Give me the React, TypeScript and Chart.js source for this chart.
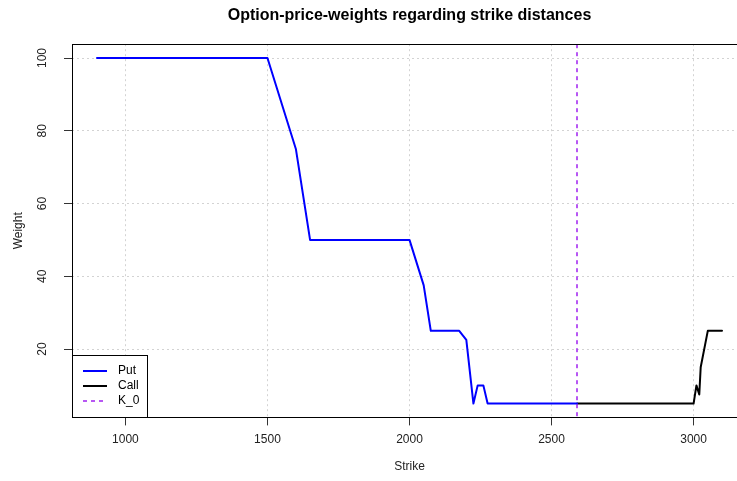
import React, { useEffect, useRef } from 'react';
import { Chart, registerables } from 'chart.js';

Chart.register(...registerables);

const chartTitle = 'Option-price-weights regarding strike distances';
const xTitle = 'Strike';
const yTitle = 'Weight';

const putStrikes = [900, 1000, 1100, 1200, 1300, 1400, 1500, 1600, 1650, 1700, 1800, 1900, 2000, 2050, 2075, 2100, 2125, 2150, 2175, 2200, 2225, 2240, 2260, 2275, 2300, 2400, 2500, 2590];
const putWeights = [100, 100, 100, 100, 100, 100, 100, 75, 50, 50, 50, 50, 50, 37.5, 25, 25, 25, 25, 25, 22.5, 5, 10, 10, 5, 5, 5, 5, 5];

const callStrikes = [2590, 2700, 2800, 2900, 3000, 3010, 3020, 3025, 3050, 3075, 3100];
const callWeights = [5, 5, 5, 5, 5, 10, 7.5, 15, 25, 25, 25];

const k0 = 2590;

const xTicks = [1000, 1500, 2000, 2500, 3000];
const yTicks = [20, 40, 60, 80, 100];
const xLimits = [812, 3188];
const yLimits = [1.2, 103.8];

const legendLabels = ['Put', 'Call', 'K_0'];
const legendColors = ['#0000FF', '#000000', '#A020F0'];

const FONT = '"Liberation Sans", Arial, sans-serif';

const decorPlugin = {
  id: 'decor',
  afterDatasetsDraw(chart: any) {
    const { ctx, chartArea: a, scales } = chart;
    const x = scales.x;
    ctx.save();
    // K_0 vertical line
    const px = Math.round(x.getPixelForValue(k0));
    ctx.strokeStyle = legendColors[2];
    ctx.lineWidth = 1.5;
    ctx.setLineDash([4, 4]);
    ctx.beginPath();
    ctx.moveTo(px, a.top);
    ctx.lineTo(px, a.bottom);
    ctx.stroke();
    ctx.setLineDash([]);

    // plot box
    ctx.strokeStyle = '#000';
    ctx.lineWidth = 1;
    const bl = Math.round(a.left) + 0.5;
    const bt = Math.round(a.top) + 0.5;
    const bb = Math.round(a.bottom) + 0.5;
    const br = Math.round(a.right) + 0.5;
    ctx.strokeRect(bl, bt, br - bl, bb - bt);

    // title
    ctx.fillStyle = '#000';
    ctx.font = 'bold 16px ' + FONT;
    ctx.textAlign = 'center';
    ctx.textBaseline = 'middle';
    ctx.fillText(chartTitle, (a.left + a.right) / 2, 16);

    // legend (bottom-left)
    const lt = 355.5;
    const lw = 75;
    ctx.fillStyle = '#fff';
    ctx.fillRect(bl, lt, lw, bb - lt);
    ctx.strokeStyle = '#000';
    ctx.strokeRect(bl, lt, lw, bb - lt);
    const rows = [370.5, 385.5, 401];
    ctx.font = '12px ' + FONT;
    ctx.textAlign = 'left';
    for (let i = 0; i < legendLabels.length; i++) {
      ctx.strokeStyle = legendColors[i];
      ctx.lineWidth = i < 2 ? 2 : 1.5;
      ctx.setLineDash(i < 2 ? [] : [4, 4]);
      ctx.beginPath();
      ctx.moveTo(83, Math.round(rows[i]));
      ctx.lineTo(107, Math.round(rows[i]));
      ctx.stroke();
      ctx.setLineDash([]);
      ctx.fillStyle = '#000';
      ctx.fillText(legendLabels[i], 118, rows[i]);
    }
    ctx.restore();
  },
};

export default function App() {
  const ref = useRef<HTMLCanvasElement | null>(null);

  useEffect(() => {
    if (!ref.current) return;
    const putData = putStrikes.map((s, i) => ({ x: s, y: putWeights[i] }));
    const callData = callStrikes.map((s, i) => ({ x: s, y: callWeights[i] }));
    const chart = new Chart(ref.current, {
      type: 'line',
      data: {
        datasets: [
          {
            label: legendLabels[0],
            data: putData,
            borderColor: legendColors[0],
            borderWidth: 2,
            pointRadius: 0,
            tension: 0,
            borderCapStyle: 'round',
            borderJoinStyle: 'round',
          },
          {
            label: legendLabels[1],
            data: callData,
            borderColor: legendColors[1],
            borderWidth: 2,
            pointRadius: 0,
            tension: 0,
            borderCapStyle: 'round',
            borderJoinStyle: 'round',
          },
        ],
      },
      options: {
        animation: false,
        responsive: false,
        devicePixelRatio: 1,
        layout: { padding: { top: 44.2, right: 13, left: 0, bottom: 0 } },
        plugins: {
          legend: { display: false },
          title: { display: false },
          tooltip: { enabled: false },
        },
        scales: {
          x: {
            type: 'linear',
            min: xLimits[0],
            max: xLimits[1],
            afterBuildTicks: (s: any) => {
              s.ticks = xTicks.map((v) => ({ value: v }));
            },
            afterFit: (s: any) => {
              s.height = 481 - 417.4;
            },
            grid: {
              color: '#d3d3d3',
              lineWidth: 1,
              drawTicks: true,
              tickLength: 8,
              tickColor: '#333',
              tickWidth: 1,
            },
            border: { display: false, dash: [2, 3] },
            ticks: {
              color: '#222',
              font: { family: FONT, size: 12 },
              padding: 7,
              maxRotation: 0,
              minRotation: 0,
              callback: (v: any) => String(v),
            },
            title: {
              display: true,
              text: xTitle,
              color: '#222',
              font: { family: FONT, size: 12 },
              padding: { top: 0, bottom: 7 },
            },
          },
          y: {
            type: 'linear',
            min: yLimits[0],
            max: yLimits[1],
            afterBuildTicks: (s: any) => {
              s.ticks = yTicks.map((v) => ({ value: v }));
            },
            afterFit: (s: any) => {
              s.width = 72;
            },
            grid: {
              color: '#d3d3d3',
              lineWidth: 1,
              drawTicks: true,
              tickLength: 8,
              tickColor: '#333',
              tickWidth: 1,
            },
            border: { display: false, dash: [2, 3] },
            ticks: {
              color: '#222',
              font: { family: FONT, size: 12 },
              padding: 11,
              minRotation: 90,
              maxRotation: 90,
              crossAlign: 'center',
              callback: (v: any) => String(v),
            },
            title: {
              display: true,
              text: yTitle,
              color: '#222',
              font: { family: FONT, size: 12 },
              padding: { top: 11, bottom: 0 },
            },
          },
        },
      },
      plugins: [decorPlugin],
    } as any);
    return () => chart.destroy();
  }, []);

  return (
    <div
      style={{
        position: 'fixed',
        left: 0,
        top: 0,
        width: 737,
        height: 481,
        overflow: 'hidden',
        background: '#fff',
      }}
    >
      <canvas ref={ref} width={760} height={481} style={{ display: 'block' }} />
    </div>
  );
}
